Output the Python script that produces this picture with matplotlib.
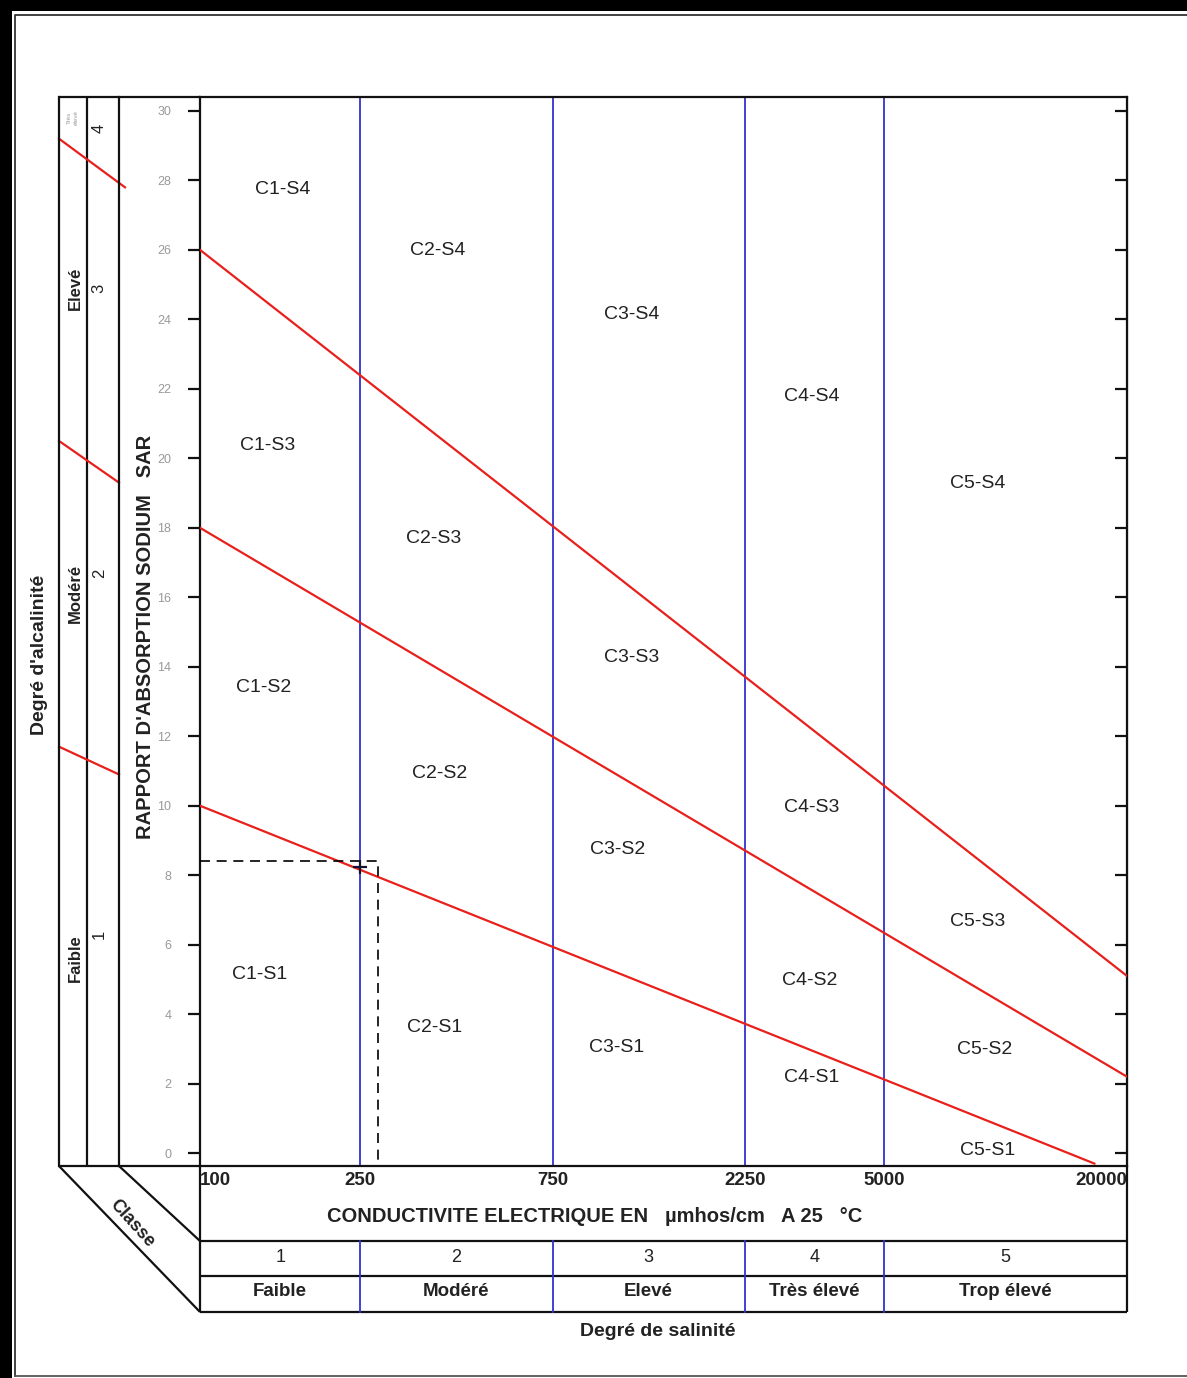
import matplotlib
matplotlib.use("Agg")
import matplotlib.pyplot as plt
from matplotlib.ticker import NullLocator
from matplotlib.transforms import blended_transform_factory
import numpy as np

plt.rcParams['font.family'] = ['Liberation Sans', 'DejaVu Sans']

W, H = 1187, 1378

# salinity classes (conductivity, umhos/cm)
ec_edges = [100, 250, 750, 2250, 5000, 20000]
ec_tick_labels = ["100", "250", "750", "2250", "5000", "20000"]
class_numbers = ["1", "2", "3", "4", "5"]
class_names = ["Faible", "Modéré", "Elevé", "Très élevé", "Trop élevé"]

# sodium hazard boundary lines (EC, SAR) endpoints
s_lines_ec = [[100, 16600], [100, 20000], [100, 20000]]
s_lines_sar = [[10.0, -0.3], [18.0, 2.2], [26.0, 5.1]]

# alkalinity strip: boundary SAR at left / right edge of the strip
alk_left = [29.2, 20.5, 11.7]
alk_right = [27.8, 19.3, 10.9]
alk_right_x = [1.1, 1.0, 1.0]
alk_names = ["Elevé", "Modéré", "Faible"]
alk_names_sar = [24.9, 16.1, 5.6]
alk_numbers = ["4", "3", "2", "1"]
alk_numbers_sar = [29.5, 24.9, 16.7, 6.3]

# sample point
sample_ec = 277
sample_sar = 8.42
cross_ec = 250
cross_sar = 8.25

sar_ticks = list(range(0, 31, 2))

# region labels
region_labels = ["C1-S4", "C2-S4", "C3-S4", "C4-S4", "C5-S4",
                 "C1-S3", "C2-S3", "C3-S3", "C4-S3", "C5-S3",
                 "C1-S2", "C2-S2", "C3-S2", "C4-S2", "C5-S2",
                 "C1-S1", "C2-S1", "C3-S1", "C4-S1", "C5-S1"]
region_ec = [160, 390, 1180, 3300, 8500,
             147, 380, 1180, 3300, 8500,
             144, 394, 1090, 3260, 8870,
             141, 383, 1080, 3300, 9020]
region_sar = [27.75, 25.97, 24.15, 21.79, 19.28,
              20.37, 17.69, 14.27, 9.94, 6.66,
              13.4, 10.92, 8.73, 4.96, 2.97,
              5.13, 3.63, 3.05, 2.19, 0.09]


def px_rect(x0, y0, x1, y1):
    return [x0 / W, 1 - y1 / H, (x1 - x0) / W, (y1 - y0) / H]


fig = plt.figure(figsize=(W / 100, H / 100), dpi=100)

# overlay in pixel coordinates for frame and table
ov = fig.add_axes([0, 0, 1, 1])
ov.set_xlim(0, W)
ov.set_ylim(H, 0)
ov.axis('off')
ov.set_zorder(0)

lk = dict(color='#111111', lw=1.6, solid_capstyle='butt')

# outer frame
ov.fill_between([0, W], 0, 11, color='black', lw=0)
ov.fill_between([0, 12], 0, H, color='black', lw=0)
ov.plot([15, 15, W], [1376, 15, 15], color='#333333', lw=1.3)
ov.plot([15, W], [1376, 1376], color='#555555', lw=1.3)

# left strip borders and diagonal "classe" band
ov.plot([59, 200], [97, 97], **lk)
ov.plot([59, 200], [1166, 1166], **lk)
ov.plot([59, 200], [1166, 1312], **lk)
ov.plot([119, 200], [1166, 1241], **lk)

# table rows under the axis
for y in [1241, 1276, 1312]:
    ov.plot([200, 1127], [y, y], **lk)
ov.plot([200, 200], [1166, 1312], **lk)
ov.plot([1127, 1127], [1166, 1312], **lk)

# main diagram
ax = fig.add_axes(px_rect(200, 97, 1127, 1166))
ax.set_zorder(2)
ax.patch.set_alpha(0)
ax.set_xscale('log')
ax.set_xlim(ec_edges[0], ec_edges[-1])
ax.set_ylim(-0.37, 30.4)
ax.xaxis.set_minor_locator(NullLocator())
for sp in ax.spines.values():
    sp.set_linewidth(1.6)
    sp.set_color('#111111')

ax.set_xticks(ec_edges, labels=ec_tick_labels)
ax.tick_params(axis='x', length=0, pad=4, labelsize=13.5)
for lab, ha in zip(ax.get_xticklabels(), ['left', 'center', 'center', 'center', 'center', 'right']):
    lab.set_ha(ha)
    lab.set_fontweight('bold')
    lab.set_color('#222222')

ax.set_yticks(sar_ticks, labels=[str(v) for v in sar_ticks])
ax.tick_params(axis='y', direction='out', length=8.6, width=1.6, pad=12,
               labelsize=9, labelcolor='#999999', color='#111111')
ax2 = ax.secondary_yaxis('right')
ax2.set_yticks(sar_ticks)
ax2.tick_params(axis='y', direction='in', length=8.6, width=1.6, labelright=False, color='#111111')

ax.set_ylabel("RAPPORT D'ABSORPTION SODIUM   SAR", fontsize=14.5, fontweight='bold',
              color='#222222', va='center')
ax.yaxis.set_label_coords(-0.059, 0.495)
ax.set_xlabel("CONDUCTIVITE ELECTRIQUE EN   µmhos/cm   A 25   °C", fontsize=14.5,
              fontweight='bold', color='#222222', va='center')
ax.xaxis.set_label_coords(0.426, -0.047)

# salinity class boundaries
for e in ec_edges[1:-1]:
    ax.axvline(e, color='#3333cc', lw=1.3, zorder=2)

# sodium hazard lines
for xs, ys in zip(s_lines_ec, s_lines_sar):
    ax.plot(xs, ys, color='#e8201c', lw=1.6, zorder=3)

# sample point with dashed guides
ax.plot([ec_edges[0], sample_ec, sample_ec], [sample_sar, sample_sar, -0.37],
        color='black', lw=1.2, ls=(0, (6, 4)), zorder=4)
ax.plot([cross_ec], [cross_sar], marker='+', color='#111133', ms=10, mew=1.6, zorder=5)

for lab, x, y in zip(region_labels, region_ec, region_sar):
    ax.text(x, y, lab, ha='center', va='center', fontsize=14, color='#222222')

# table under the axis (x from data, y in pixels)
tr = blended_transform_factory(ax.transData, ov.transData)
for e in ec_edges[1:-1]:
    ax.plot([e, e], [1241, 1312], color='#3333cc', lw=1.3, transform=tr, clip_on=False)
centers = [np.sqrt(a * b) for a, b in zip(ec_edges[:-1], ec_edges[1:])]
for c, num, name in zip(centers, class_numbers, class_names):
    ax.text(c, 1258, num, transform=tr, ha='center', va='center', fontsize=13, color='#222222')
    ax.text(c, 1292, name, transform=tr, ha='center', va='center', fontsize=13.5,
            fontweight='bold', color='#222222')
ov.text(658, 1331, "Degré de salinité", ha='center', va='center', fontsize=14,
        fontweight='bold', color='#222222')

# alkalinity strip
st = fig.add_axes(px_rect(59, 97, 119, 1166))
st.set_zorder(1)
st.patch.set_alpha(0)
st.set_xlim(0, 1)
st.set_ylim(ax.get_ylim())
st.set_xticks([])
st.set_yticks([])
st.spines['top'].set_visible(False)
st.spines['bottom'].set_visible(False)
for s in ['left', 'right']:
    st.spines[s].set_linewidth(1.6)
    st.spines[s].set_color('#111111')
st.axvline(28 / 60, color='#111111', lw=1.6)
for yl, yr, xr in zip(alk_left, alk_right, alk_right_x):
    st.plot([0, xr], [yl, yr], color='#e8201c', lw=1.6, clip_on=False)
for name, y in zip(alk_names, alk_names_sar):
    st.text(0.27, y, name, rotation=90, ha='center', va='center', fontsize=12,
            fontweight='bold', color='#222222')
for num, y in zip(alk_numbers, alk_numbers_sar):
    st.text(0.67, y, num, rotation=90, ha='center', va='center', fontsize=12, color='#222222')
st.text(0.23, 29.8, "Très\nélevé", rotation=90, ha='center', va='center', fontsize=4.5,
        color='#999999', linespacing=1.6)

ov.text(40, 655, "Degré d'alcalinité", rotation=90, ha='center', va='center', fontsize=14,
        fontweight='bold', color='#222222')
ov.text(132, 1224, "Classe", rotation=-48, ha='center', va='center', fontsize=13,
        fontweight='bold', color='#222222', rotation_mode='anchor')

fig.savefig("out.png", dpi=100)
